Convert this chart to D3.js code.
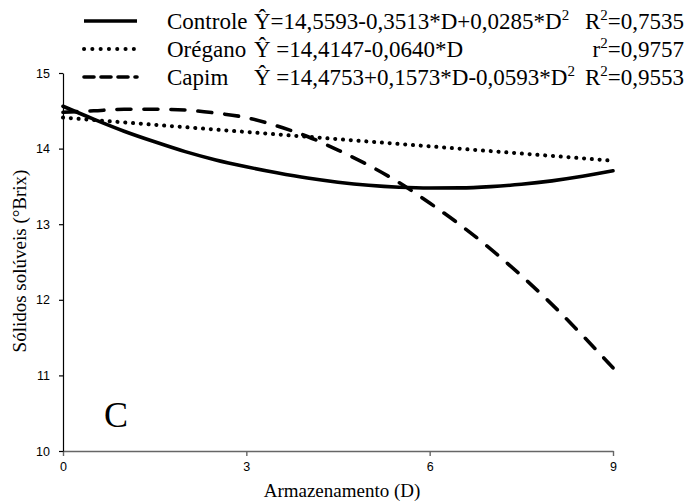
<!DOCTYPE html>
<html>
<head>
<meta charset="utf-8">
<script src="https://cdn.jsdelivr.net/npm/d3@7"></script>
<style>
  body { margin: 0; background: #fff; }
  .serif { font-family: "Liberation Serif", "Times New Roman", serif; fill: #000; }
  .tick text { font-family: "Liberation Sans", Arial, sans-serif; font-size: 12.5px; fill: #000; }
</style>
</head>
<body>
<div id="chart"></div>
<script>
// Step 1: Data
// ===========================
var days = [0, 0.5, 1, 1.5, 2, 2.5, 3, 3.5, 4, 4.5, 5, 5.5, 6, 6.5, 7, 7.5, 8, 8.5, 9];
var controle = [14.56, 14.39, 14.23, 14.09, 13.96, 13.85, 13.76, 13.68, 13.61, 13.556, 13.515, 13.489, 13.478, 13.48, 13.497, 13.528, 13.573, 13.633, 13.706];
var capim = [14.48, 14.50, 14.52, 14.52, 14.51, 14.47, 14.41, 14.30, 14.16, 13.98, 13.78, 13.55, 13.28, 12.99, 12.67, 12.32, 11.94, 11.53, 11.10];
var oreganoDays = [0, 3, 6, 9];
var oregano = [14.41, 14.22, 14.03, 13.84];

var xTicks = [0, 3, 6, 9];
var yTicks = [10, 11, 12, 13, 14, 15];

var legendNames = ["Controle", "Orégano", "Capim"];
// equation pieces: [text, superscript?]
var legendEquations = [
  [["Ŷ=14,5593-0,3513*D+0,0285*D", false], ["2", true]],
  [["Ŷ =14,4147-0,0640*D", false]],
  [["Ŷ =14,4753+0,1573*D-0,0593*D", false], ["2", true]]
];
var legendR2 = [["R", "=0,7535"], ["r", "=0,9757"], ["R", "=0,9553"]];

// Step 2: Set up the svg
// ===========================
var svgWidth = 690;
var svgHeight = 504;

var margin = { top: 73, right: 77, bottom: 53, left: 63 };
var width = svgWidth - margin.left - margin.right;
var height = svgHeight - margin.top - margin.bottom;

var svg = d3.select("#chart")
            .append("svg")
            .attr("width", svgWidth)
            .attr("height", svgHeight);

var chartGroup = svg.append("g")
                    .attr("transform", `translate(${margin.left}, ${margin.top})`);

// Step 3: Scales and axes
// ===========================
var xScale = d3.scaleLinear().domain([0, 9]).range([0, width]);
var yScale = d3.scaleLinear().domain([10, 15]).range([height, 0]);

var xAxis = chartGroup.append("g")
                      .attr("transform", `translate(0, ${height})`)
                      .call(d3.axisBottom(xScale).tickValues(xTicks).tickFormat(d3.format("d"))
                              .tickSize(5).tickSizeOuter(0).tickPadding(6));
xAxis.select(".domain").attr("stroke", "#666").attr("stroke-width", 1.4);
xAxis.selectAll(".tick line").attr("stroke", "#666").attr("stroke-width", 1.4);

var yAxis = chartGroup.append("g")
                      .call(d3.axisLeft(yScale).tickValues(yTicks).tickFormat(d3.format("d"))
                              .tickSize(4).tickSizeOuter(0).tickPadding(9));
yAxis.select(".domain").attr("stroke", "#000").attr("stroke-width", 1.2);
yAxis.selectAll(".tick line").attr("stroke", "#000").attr("stroke-width", 1.2);

// Step 4: Lines
// ===========================
var line = d3.line()
             .x(d => xScale(d[0]))
             .y(d => yScale(d[1]))
             .curve(d3.curveMonotoneX);

var series = [
  { pts: d3.zip(days, controle), dash: null },
  { pts: d3.zip(oreganoDays, oregano), dash: "0.1,7.7" },
  { pts: d3.zip(days, capim), dash: "14,13" }
];

chartGroup.selectAll(".series")
          .data(series)
          .enter()
          .append("path")
          .attr("class", "series")
          .attr("d", d => line(d.pts))
          .attr("fill", "none")
          .attr("stroke", "#000")
          .attr("stroke-width", (d, i) => i == 1 ? 4 : 3.6)
          .attr("stroke-linecap", "round")
          .attr("stroke-dasharray", d => d.dash);

// Step 5: Legend
// ===========================
var legendDash = [null, "0.1,8.2", "10,7"];
var legendRows = [21, 49, 77];

var legend = svg.selectAll(".legend")
                .data(legendNames)
                .enter()
                .append("g")
                .attr("class", "legend")
                .attr("transform", (d, i) => `translate(0, ${legendRows[i]})`);

legend.append("line")
      .attr("x1", 84).attr("x2", 137)
      .attr("stroke", "#000")
      .attr("stroke-width", (d, i) => i == 1 ? 4 : 3.6)
      .attr("stroke-linecap", (d, i) => i == 0 ? "butt" : "round")
      .attr("stroke-dasharray", (d, i) => legendDash[i]);

legend.append("text")
      .attr("class", "serif")
      .attr("x", 167).attr("y", 8)
      .style("font-size", "23px")
      .text(d => d);

legend.append("text")
      .attr("class", "serif")
      .attr("x", 254).attr("y", 8)
      .style("font-size", "23px")
      .each(function(d, i) {
        var t = d3.select(this);
        legendEquations[i].forEach(function(p) {
          t.append("tspan")
           .attr("dy", p[1] ? -9 : 0)
           .style("font-size", p[1] ? "15px" : null)
           .text(p[0]);
        });
      });

legend.append("text")
      .attr("class", "serif")
      .attr("x", 684).attr("y", 8)
      .attr("text-anchor", "end")
      .style("font-size", "23px")
      .each(function(d, i) {
        var t = d3.select(this);
        t.append("tspan").text(legendR2[i][0]);
        t.append("tspan").attr("dy", -9).style("font-size", "15px").text("2");
        t.append("tspan").attr("dy", 9).text(legendR2[i][1]);
      });

// Step 6: Labels
// ===========================
svg.append("text")
   .attr("class", "serif")
   .attr("transform", `translate(26, 261) rotate(-90)`)
   .attr("text-anchor", "middle")
   .style("font-size", "19px")
   .text("Sólidos solúveis (°Brix)");

svg.append("text")
   .attr("class", "serif")
   .attr("x", 342).attr("y", 497)
   .attr("text-anchor", "middle")
   .style("font-size", "19px")
   .text("Armazenamento (D)");

svg.append("text")
   .attr("class", "serif")
   .attr("x", 104).attr("y", 427)
   .style("font-size", "36px")
   .text("C");
</script>
</body>
</html>
